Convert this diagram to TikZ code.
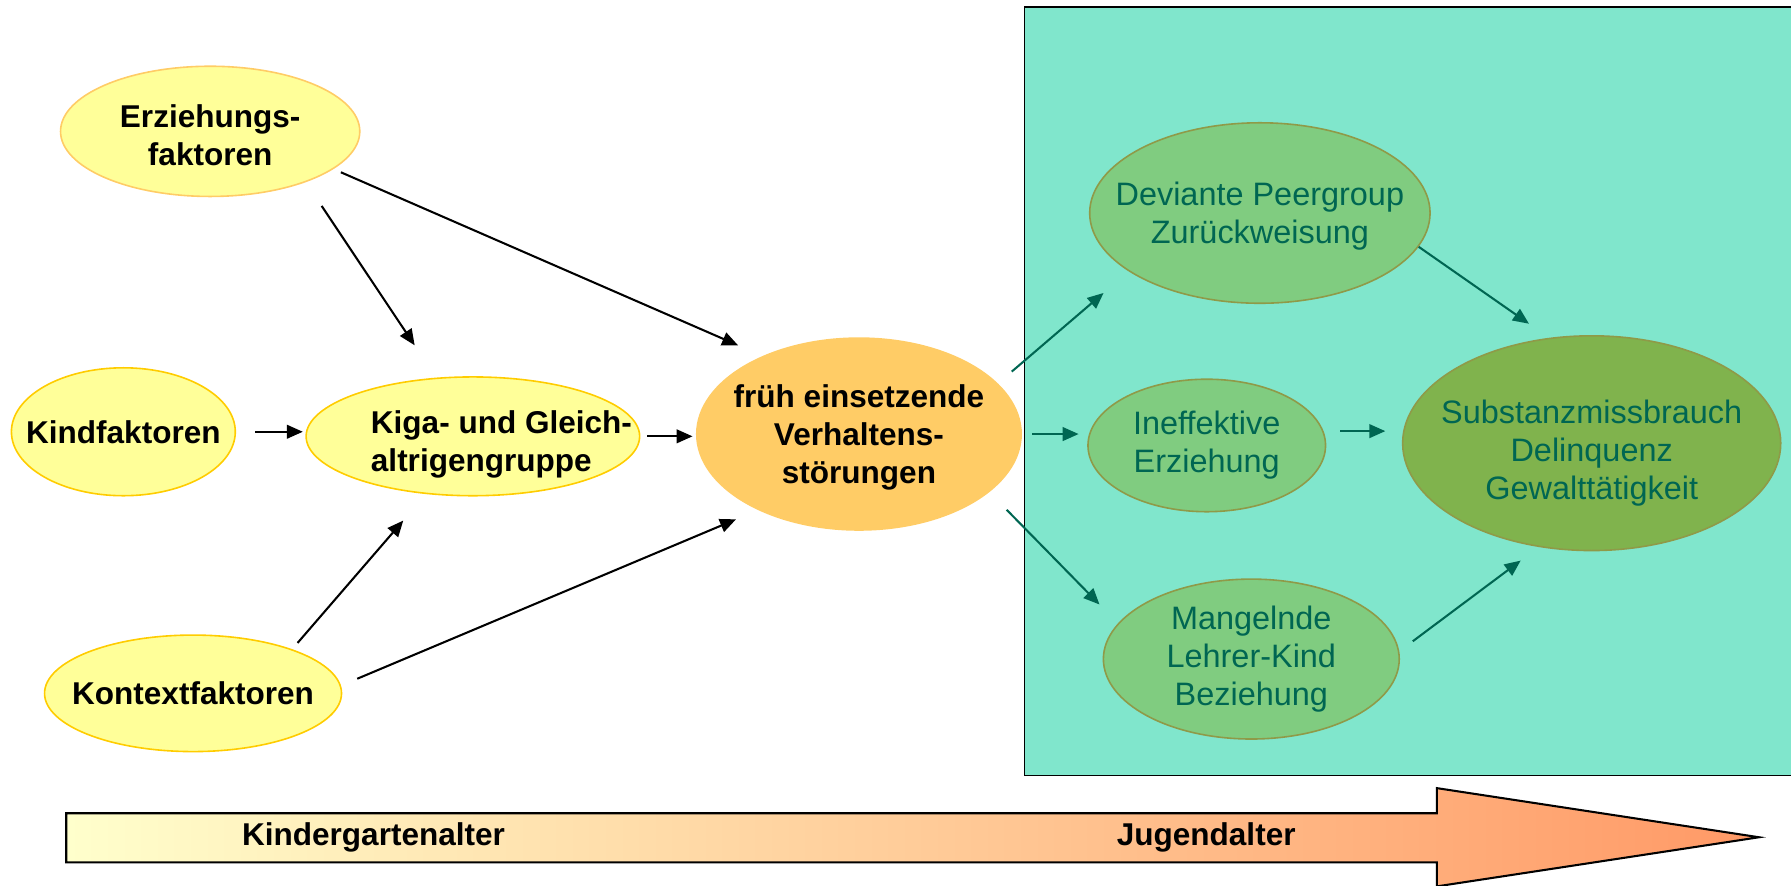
\documentclass[tikz,border=0pt]{standalone}
\usepackage{fontspec}
\setmainfont{Liberation Sans}
\usetikzlibrary{shapes.geometric,arrows.meta}
\definecolor{yfill}{HTML}{FFFF99}
\definecolor{yline}{HTML}{FFCC00}
\definecolor{yline2}{HTML}{FFCC66}
\definecolor{ofill}{HTML}{FFCC66}
\definecolor{tealbg}{HTML}{80E6CC}
\definecolor{gfill}{HTML}{80CC80}
\definecolor{gfill2}{HTML}{80B34D}
\definecolor{gline}{HTML}{8F9A48}
\definecolor{gtext}{HTML}{006652}
\definecolor{arrL}{HTML}{FFFFCC}
\definecolor{arrR}{HTML}{FF9966}
\begin{document}
\begin{tikzpicture}[x=0.5pt,y=-0.5pt,
 ell/.style={ellipse, inner sep=0pt, line width=0.7pt},
 yel/.style={ell, draw=yline, fill=yfill},
 grn/.style={ell, draw=gline, fill=gfill},
 bl/.style={font=\fontsize{13.8}{16.6}\selectfont\bfseries, align=center, text=black, inner sep=0pt},
 gl/.style={font=\fontsize{14.2}{16.6}\selectfont, align=center, text=gtext, inner sep=0pt},
 arr/.style={line width=0.9pt, -{Triangle[length=7pt,width=6pt]}},
 garr/.style={arr, color=gtext}]
\useasboundingbox (0,0) rectangle (1568,775);
% teal background box
\draw[fill=tealbg, line width=0.8pt] (897,6) rectangle (1580,679);
% left nodes
\node[yel, draw=yline2, minimum width=131pt, minimum height=57pt,
  label={[bl, yshift=-1.8pt]center:{Erziehungs-\\faktoren}}] (erz) at (184,115) {};
\node[yel, minimum width=98pt, minimum height=56pt,
  label={[bl]center:{Kindfaktoren}}] (kind) at (108,378) {};
\node[yel, minimum width=146pt, minimum height=52pt,
  label={[bl, align=left, xshift=12.5pt, yshift=-3.7pt]center:{Kiga- und Gleich-\\altrigengruppe}}] (kiga) at (414,382) {};
\node[yel, minimum width=130pt, minimum height=51pt,
  label={[bl]center:{Kontextfaktoren}}] (kontext) at (169,607) {};
\node[ell, draw=ofill, fill=ofill, minimum width=142pt, minimum height=84pt,
  label={[bl, yshift=-1.5pt]center:{früh einsetzende\\Verhaltens-\\störungen}}] (frueh) at (752,380) {};
% right nodes
\node[grn, minimum width=149pt, minimum height=79pt,
  label={[gl, yshift=-1.2pt]center:{Deviante Peergroup\\Zurückweisung}}] (dev) at (1103,186.5) {};
\node[grn, minimum width=104pt, minimum height=58pt,
  label={[gl]center:{Ineffektive\\Erziehung}}] (ineff) at (1056.5,390) {};
\node[grn, minimum width=129.5pt, minimum height=70pt,
  label={[gl]center:{Mangelnde\\Lehrer-Kind\\Beziehung}}] (mang) at (1095.5,577) {};
\node[grn, fill=gfill2, minimum width=165.5pt, minimum height=94pt,
  label={[gl, yshift=-4.5pt]center:{Substanzmissbrauch\\Delinquenz\\Gewalttätigkeit}}] (subst) at (1393.5,388) {};
% black connectors
\draw[arr, shorten <=12.5pt, shorten >=17pt] (erz.-28) -- (kiga.122.3);
\draw[arr, shorten <=3.5pt, shorten >=11.7pt] (erz.-17.9) -- (frueh.141.7);
\draw[arr, shorten <=8.4pt, shorten >=1.1pt] (kind.east) -- (kind.east -| kiga.west);
\draw[arr, shorten <=3pt, shorten >=1.5pt] (kiga.east) -- (kiga.east -| frueh.west);
\draw[arr, shorten <=3.6pt, shorten >=15.3pt] (kontext.24.3) -- (kiga.231.7);
\draw[arr, shorten <=7.7pt, shorten >=10.5pt] (kontext.3.1) -- (frueh.217.3);
% green connectors
\draw[garr, shorten <=8pt, shorten >=14.5pt] (frueh.20.2) -- (dev.204.3);
\draw[garr, shorten <=4.5pt, shorten >=3.75pt] (frueh.east) -- (frueh.east -| ineff.west);
\draw[garr, shorten <=10.85pt, shorten >=11.55pt] (frueh.-24.4) -- (mang.165.1);
\draw[garr, shorten >=10.75pt] (dev.-12) -- (subst.112.3);
\draw[garr, shorten <=7.3pt, shorten >=7.25pt] (ineff.7.3) -- (ineff.7.3 -| subst.west);
\draw[garr, shorten <=7.35pt, shorten >=9.9pt] (mang.3.8) -- (subst.243.9);
% time arrow
\shadedraw[left color=arrL, right color=arrR, draw=black, line width=0.9pt]
  (58,712) -- (1258,712) -- (1258,690) -- (1540,733) -- (1258,776) -- (1258,755) -- (58,755) -- cycle;
\node[bl] (kga) at (327,733) {Kindergartenalter};
\node[bl] (jug) at (1056,733) {Jugendalter};
\end{tikzpicture}
\end{document}
